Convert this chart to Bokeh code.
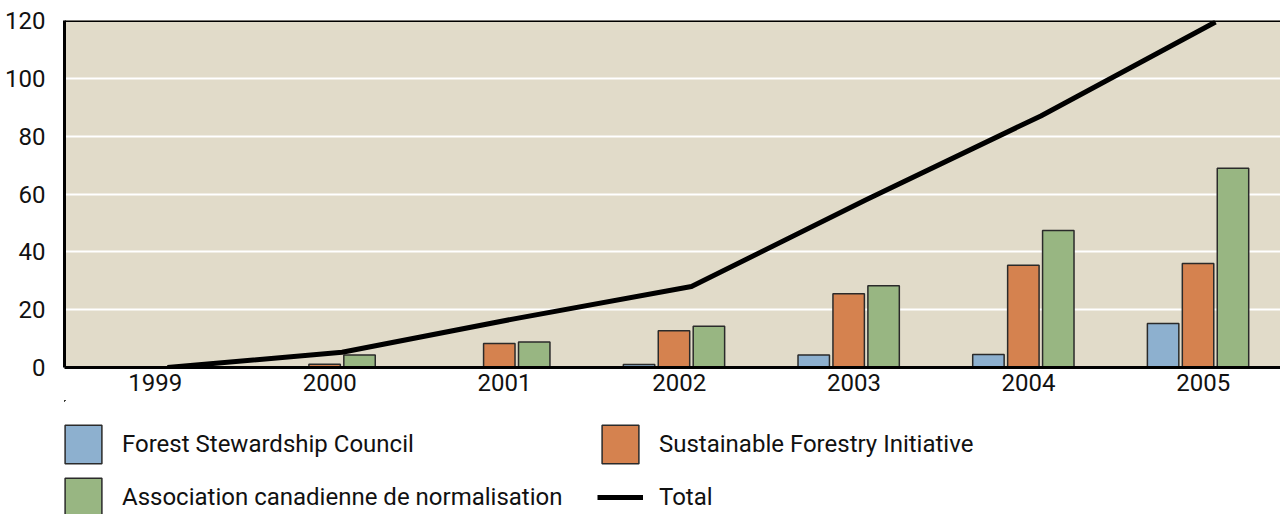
from bokeh.plotting import figure
from bokeh.layouts import column
from bokeh.models import (Range1d, FixedTicker, Legend, LegendItem, Span,
                          ColumnDataSource)
from bokeh.transform import dodge
from bokeh.embed import file_html
from bokeh.resources import INLINE

# ---- data ----
years = ["1999", "2000", "2001", "2002", "2003", "2004", "2005"]
fsc = [0, 0, 0, 1.0, 4.3, 4.5, 15.2]          # Forest Stewardship Council
sfi = [0, 1.1, 8.3, 12.7, 25.5, 35.4, 36.0]   # Sustainable Forestry Initiative
csa = [0, 4.3, 8.8, 14.3, 28.3, 47.4, 68.9]   # Association canadienne de normalisation
total = [0, 5.3, 17.0, 28.0, 58.0, 87.0, 119.5]
y_ticks = [0, 20, 40, 60, 80, 100, 120]

labels = {
    "fsc": "Forest Stewardship Council",
    "sfi": "Sustainable Forestry Initiative",
    "csa": "Association canadienne de normalisation",
    "total": "Total",
}

FONT = "Roboto"
BG = "#e1dbc9"
BLUE = "#8db0cf"
ORANGE = "#d5824f"
GREEN = "#98b682"
EDGE = "#2a2a2a"

idx = list(range(len(years)))
src = ColumnDataSource(dict(x=idx, fsc=fsc, sfi=sfi, csa=csa, total=total))

# ---------------- main chart ----------------
p = figure(width=1280, height=400, output_backend="svg", toolbar_location=None,
           x_range=Range1d(-0.519, 6.442), y_range=Range1d(0, 120),
           min_border_left=64, min_border_right=0, min_border_top=20,
           min_border_bottom=33)
p.background_fill_color = BG
p.border_fill_color = "white"
p.outline_line_color = None

p.xgrid.visible = False
p.ygrid.ticker = FixedTicker(ticks=y_ticks)
p.ygrid.grid_line_color = "white"
p.ygrid.grid_line_width = 2

p.yaxis.ticker = FixedTicker(ticks=y_ticks)
p.xaxis.ticker = FixedTicker(ticks=idx)
p.xaxis.major_label_overrides = {i: y for i, y in zip(idx, years)}
for ax in (p.xaxis[0], p.yaxis[0]):
    ax.axis_line_color = "black"
    ax.axis_line_width = 3
    ax.major_tick_line_color = None
    ax.minor_tick_line_color = None
    ax.major_tick_out = 0
    ax.major_tick_in = 0
    ax.minor_tick_out = 0
    ax.major_label_text_font = FONT
    ax.major_label_text_font_size = "24px"
    ax.major_label_text_color = "#111111"
p.yaxis.major_label_standoff = 19
p.xaxis.major_label_standoff = 6

p.add_layout(Span(location=120, dimension="width", line_color="black", line_width=3))

bar_kw = dict(width=0.18, line_color=EDGE, line_width=1.5)
p.vbar(x=dodge("x", -0.23), top="fsc", fill_color=BLUE, source=src, **bar_kw)
p.vbar(x=dodge("x", -0.03), top="sfi", fill_color=ORANGE, source=src, **bar_kw)
p.vbar(x=dodge("x", 0.17), top="csa", fill_color=GREEN, source=src, **bar_kw)
p.line(x=dodge("x", 0.07), y="total", source=src, line_color="black",
       line_width=5, line_join="round")

# ---------------- legend strip ----------------
# the same series are attached here, far outside this strip's visible ranges,
# only so that the legend can show their swatches
q = figure(width=1280, height=114, output_backend="svg", toolbar_location=None,
           x_axis_type=None, y_axis_type=None,
           min_border_left=64, min_border_right=0, min_border_top=0,
           min_border_bottom=0,
           x_range=Range1d(100, 101), y_range=Range1d(-2, -1))
q.grid.visible = False
q.outline_line_color = None
q.background_fill_color = "white"
q.border_fill_color = "white"

k_fsc = q.vbar(x="x", top="fsc", source=src, fill_color=BLUE, **bar_kw)
k_sfi = q.vbar(x="x", top="sfi", source=src, fill_color=ORANGE, **bar_kw)
k_csa = q.vbar(x="x", top="csa", source=src, fill_color=GREEN, **bar_kw)
k_tot = q.line(x="x", y="total", source=src, line_color="black", line_width=5)

def make_legend(items, loc):
    return Legend(items=items, location=loc, orientation="vertical",
                  spacing=5, padding=0, margin=0,
                  glyph_width=46, glyph_height=48, label_standoff=16,
                  label_text_font=FONT, label_text_font_size="24px",
                  label_text_color="#111111",
                  border_line_color=None, background_fill_alpha=0)

q.add_layout(make_legend([LegendItem(label=labels["fsc"], renderers=[k_fsc]),
                          LegendItem(label=labels["csa"], renderers=[k_csa])], (-4, -7)))
q.add_layout(make_legend([LegendItem(label=labels["sfi"], renderers=[k_sfi]),
                          LegendItem(label=labels["total"], renderers=[k_tot])], (533, -7)))

layout = column(p, q, spacing=0)
open("out.html", "w").write(file_html(layout, INLINE))
